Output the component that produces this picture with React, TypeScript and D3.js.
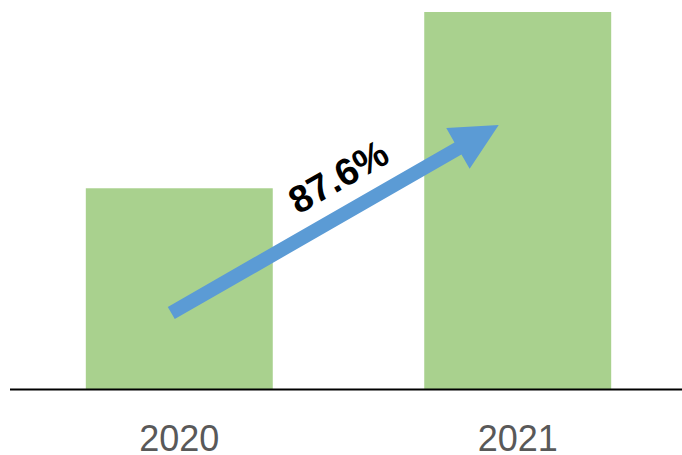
import React from "react";
import * as d3 from "d3";

const categories = ["2020", "2021"];
const values = [100, 187.6];
const arrowFrom = { cat: "2020", offset: -8, value: 38 };
const arrowTo = { cat: "2021", offset: -19, value: 131.4 };

const W = 682;
const H = 455;

export default function App() {
  const x = d3
    .scaleBand<string>()
    .domain(categories)
    .range([10, 687])
    .paddingInner(0.4476)
    .paddingOuter(0.224);
  const y = d3.scaleLinear().domain([0, 187.6]).range([389.5, 12]);

  const cx = (c: string) => (x(c) ?? 0) + x.bandwidth() / 2;

  const tail: [number, number] = [cx(arrowFrom.cat) + arrowFrom.offset, y(arrowFrom.value)];
  const tip: [number, number] = [cx(arrowTo.cat) + arrowTo.offset, y(arrowTo.value)];
  const dx = tip[0] - tail[0];
  const dy = tip[1] - tail[1];
  const len = Math.hypot(dx, dy);
  const ux = dx / len, uy = dy / len;
  const nx = -uy, ny = ux;
  const shaftW = 14, headW = 47, headL = 47;
  const base: [number, number] = [tip[0] - ux * headL, tip[1] - uy * headL];
  const pts: [number, number][] = [
    [tail[0] + nx * shaftW / 2, tail[1] + ny * shaftW / 2],
    [base[0] + nx * shaftW / 2, base[1] + ny * shaftW / 2],
    [base[0] + nx * headW / 2, base[1] + ny * headW / 2],
    tip,
    [base[0] - nx * headW / 2, base[1] - ny * headW / 2],
    [base[0] - nx * shaftW / 2, base[1] - ny * shaftW / 2],
    [tail[0] - nx * shaftW / 2, tail[1] - ny * shaftW / 2],
  ];
  const angle = (Math.atan2(dy, dx) * 180) / Math.PI;
  const growth = ((values[1] / values[0] - 1) * 100).toFixed(1) + "%";
  const mid = [tail[0] + dx * 0.5, tail[1] + dy * 0.5];
  const labelPos = [mid[0] + ux * 24 - nx * 32, mid[1] + uy * 24 - ny * 32];

  return (
    <svg
      width={W}
      height={H}
      style={{ position: "absolute", left: 0, top: 0, background: "#fff" }}
      fontFamily="'Liberation Sans', Arial, sans-serif"
    >
      {categories.map((c, i) => (
        <rect
          key={c}
          x={x(c)}
          y={y(values[i])}
          width={x.bandwidth()}
          height={y(0) - y(values[i])}
          fill="#A9D18E"
        />
      ))}
      <line x1={10} x2={W} y1={y(0)} y2={y(0)} stroke="#000" strokeWidth={2} />
      {categories.map((c) => (
        <text
          key={c}
          x={cx(c)}
          y={451}
          textAnchor="middle"
          fontSize={36}
          fill="#595959"
        >
          {c}
        </text>
      ))}
      <polygon points={pts.map((p) => p.join(",")).join(" ")} fill="#5B9BD5" />
      <text
        transform={`translate(${labelPos[0]},${labelPos[1]}) rotate(${angle})`}
        textAnchor="middle"
        dominantBaseline="middle"
        fontSize={38}
        fontWeight="bold"
        fill="#000"
      >
        {growth}
      </text>
    </svg>
  );
}
